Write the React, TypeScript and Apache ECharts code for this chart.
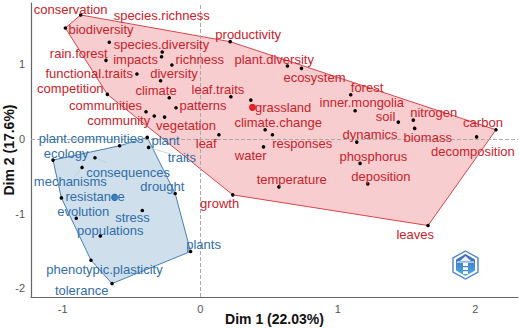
import React, { useEffect, useRef } from "react";
import * as echarts from "echarts";

const redWords = ["conservation","species.richness","biodiversity","species.diversity","impacts","richness","functional.traits","rain.forest","diversity","competition","climate","patterns","communities","community","vegetation","productivity","leaf.traits","grassland","leaf","plant.diversity","ecosystem","forest","inner.mongolia","soil","nitrogen","biomass","carbon","decomposition","climate.change","responses","water","dynamics","phosphorus","temperature","deposition","growth","leaves"];
const redDim1 = [-0.869,-0.98,-0.661,-0.276,-0.281,-0.206,-0.46,-0.685,-0.288,-0.675,-0.225,-0.176,-0.394,-0.334,-0.259,0.218,0.223,0.368,0.136,0.634,0.736,1.094,1.126,1.44,1.549,1.559,2.15,2.009,0.472,0.525,0.46,1.138,1.162,0.572,1.218,0.237,1.656];
const redDim2 = [1.66,1.485,1.294,1.164,1.10,0.989,0.869,1.052,0.779,0.597,0.551,0.417,0.363,0.306,0.292,1.302,0.564,0.52,0.055,0.976,0.945,0.591,0.377,0.225,0.252,0.141,0.122,0.028,0.122,0.055,-0.106,-0.043,-0.328,-0.642,-0.602,-0.749,-1.16];
const redHullWords = ["conservation","productivity","carbon","leaves","growth","competition","species.richness"];
const redCentre = [0.38, 0.422];

const blueWords = ["plant","traits","plant.communities","ecology","consequences","mechanisms","resistance","evolution","stress","drought","populations","plants","phenotypic.plasticity","tolerance"];
const blueDim1 = [-0.385,-0.375,-0.586,-1.07,-0.765,-0.859,-1.009,-0.901,-0.421,-0.182,-0.726,-0.07,-0.794,-0.641];
const blueDim2 = [0.02,-0.114,-0.092,-0.284,-0.253,-0.382,-0.79,-1.062,-0.958,-0.731,-1.299,-1.508,-1.625,-1.937];
const blueHullWords = ["ecology","plant.communities","plant","drought","plants","tolerance","phenotypic.plasticity","resistance"];
const blueCentre = [-0.622, -0.78];

const xTicks = [-1, 0, 1, 2];
const yTicks = [-2, -1, 0, 1];

// label nudges in pixels, from the mark to the centre of its text
const redNudge: number[][] = [[-10,-5],[96.3,-13],[-8.3,-13],[-0.7,-7.7],[-26,2.3],[27.8,-6],[-47.7,-0.7],[-27.2,-7],[13.4,-7.4],[-37,-6],[-13.2,-7],[27,-2.4],[-40.4,-6.4],[-35.5,4.3],[21.4,8.7],[18,-6.7],[-13,-7.4],[32.3,7.7],[-12.7,8.6],[-13.3,-6.7],[13,9],[16.3,-7.4],[6.7,-8.7],[-12.8,-5.3],[20.4,-7.3],[13,8.7],[-13,-7],[-3.7,15],[13,-7],[29.7,8.6],[-12.8,8.6],[13.3,-7.3],[13.3,-7.3],[12.8,-7],[13.1,-7.4],[-13.2,9],[-12.8,9]];
const blueNudge: number[][] = [[18.3,3.4],[33.2,10],[-28.5,-7.4],[13.1,-6.7],[33.1,14.3],[-11.7,14.4],[33.7,-1.4],[7,-7],[-9.8,7],[-12.8,-6.6],[10,-5],[13,-7],[13.5,9],[-30.4,7]];

// faint leader lines: word, and how far along the way to its text the line stops
const redLeaders: [string, number][] = [["species.richness", 0.49]];
const blueLeaders: [string, number][] = [["traits", 0.62], ["consequences", 0.35], ["mechanisms", 0.7]];

const RED = "#c9222a";
const BLUE = "#2f6da8";
const FONT = "'Liberation Sans', Arial, sans-serif";

function hullSeries(words: string[], xs: number[], ys: number[], hull: string[], fill: string, stroke: string) {
  const pts = hull.map((w) => { const i = words.indexOf(w); return [xs[i], ys[i]]; });
  return {
    type: "custom", silent: true, z: 1, clip: false,
    data: pts,
    encode: { x: 0, y: 1 },
    renderItem: (p: any, api: any) => p.dataIndex !== 0 ? null : ({
      type: "polygon",
      shape: { points: pts.map((q) => api.coord(q)) },
      style: { fill, stroke, lineWidth: 1 },
    }),
  };
}

function leaderSeries(words: string[], xs: number[], ys: number[], nudge: number[][], leaders: [string, number][], stroke: string) {
  const rows = leaders.map(([w, f]) => { const i = words.indexOf(w); return [xs[i], ys[i], nudge[i][0] * f, nudge[i][1] * f]; });
  return {
    type: "custom", silent: true, z: 3, clip: false,
    data: rows,
    encode: { x: 0, y: 1 },
    renderItem: (_p: any, api: any) => {
      const a = api.coord([api.value(0), api.value(1)]);
      return {
        type: "line",
        shape: { x1: a[0], y1: a[1], x2: a[0] + api.value(2), y2: a[1] + api.value(3) },
        style: { stroke, lineWidth: 0.8 },
      };
    },
  };
}

function wordSeries(words: string[], xs: number[], ys: number[], nudge: number[][], color: string) {
  return {
    type: "scatter", silent: true, z: 5,
    symbolSize: 3.6,
    itemStyle: { color: "#000", opacity: 1 },
    data: words.map((w, i) => ({
      name: w,
      value: [xs[i], ys[i]],
      label: {
        show: true, formatter: w, position: "inside", offset: nudge[i],
        color, fontSize: 13, fontFamily: FONT, align: "center", verticalAlign: "middle",
      },
    })),
  };
}

echarts.graphic.registerShape("logoHex", echarts.graphic.extendPath("M12.5 0L25 7L25 21L12.5 28L0 21L0 7Z", {}) as any);

export default function App() {
  const ref = useRef<HTMLDivElement>(null);
  useEffect(() => {
    const chart = echarts.init(ref.current!, undefined, { renderer: "svg" });
    const nameStyle = { fontFamily: FONT, fontSize: 14, fontWeight: "bold", color: "#111" };
    const axisLine = { show: true, onZero: false, lineStyle: { color: "#666", width: 1.2 } };
    const tickLabel = { color: "#555", fontFamily: FONT, fontSize: 11, margin: 6 };
    chart.setOption({
      animation: false,
      backgroundColor: "#fff",
      grid: { left: 31, right: 2, top: 3, bottom: 31, outerBoundsMode: "none" },
      xAxis: {
        type: "value", min: -1.23, max: 2.31,
        name: "Dim 1 (22.03%)", nameLocation: "middle", nameGap: 15, nameMoveOverlap: false,
        nameTextStyle: nameStyle,
        splitLine: { show: false },
        axisLine,
        axisTick: { show: false, customValues: xTicks },
        axisLabel: { ...tickLabel, customValues: xTicks },
      },
      yAxis: {
        type: "value", min: -2.117, max: 1.82,
        name: "Dim 2 (17.6%)", nameLocation: "middle", nameGap: 15, nameMoveOverlap: false,
        nameTextStyle: nameStyle,
        splitLine: { show: false },
        axisLine,
        axisTick: { show: false, customValues: yTicks },
        axisLabel: { ...tickLabel, customValues: yTicks },
      },
      series: [
        hullSeries(redWords, redDim1, redDim2, redHullWords, "rgba(226,60,70,0.26)", "#d9444a"),
        hullSeries(blueWords, blueDim1, blueDim2, blueHullWords, "rgba(70,130,180,0.26)", "#4a7fb5"),
        {
          type: "line", data: [], z: 2, silent: true,
          markLine: {
            silent: true, symbol: "none", label: { show: false }, animation: false,
            lineStyle: { color: "#aaa", type: "dashed", width: 1 },
            data: [{ xAxis: 0 }, { yAxis: 0 }],
          },
        },
        leaderSeries(redWords, redDim1, redDim2, redNudge, redLeaders, "#e6d6d6"),
        leaderSeries(blueWords, blueDim1, blueDim2, blueNudge, blueLeaders, "#bccbd9"),
        wordSeries(redWords, redDim1, redDim2, redNudge, RED),
        wordSeries(blueWords, blueDim1, blueDim2, blueNudge, BLUE),
        { type: "scatter", silent: true, z: 4, symbolSize: 7, itemStyle: { color: "#e0242c", opacity: 1 }, data: [redCentre] },
        { type: "scatter", silent: true, z: 4, symbolSize: 7, itemStyle: { color: "#3d84c4", opacity: 1 }, data: [blueCentre] },
      ],
      graphic: [
        {
          type: "group", x: 453, y: 251,
          children: [
            { type: "logoHex", style: { fill: "#fff", stroke: "#4a86c8", lineWidth: 1.4 } },
            { type: "polygon", shape: { points: [[12.5,3],[22,8.5],[22,19.5],[12.5,25],[3,19.5],[3,8.5]] }, style: { fill: {
              type: "linear", x: 0, y: 0, x2: 0, y2: 1,
              colorStops: [{ offset: 0, color: "#3f66b4" }, { offset: 1, color: "#46aee6" }],
            } } },
            { type: "polygon", shape: { points: [[12.5,5],[18,10],[7,10]] }, style: { fill: "#e8eef8" } },
            { type: "rect", shape: { x: 4, y: 10.5, width: 17, height: 1.2 }, style: { fill: "#e8eef8" } },
            { type: "rect", shape: { x: 10, y: 12, width: 5, height: 11 }, style: { fill: "#ffffff" } },
            { type: "rect", shape: { x: 10, y: 15, width: 5, height: 1.2 }, style: { fill: "#3f86cc" } },
            { type: "rect", shape: { x: 10, y: 19, width: 5, height: 1.2 }, style: { fill: "#3f86cc" } },
          ],
        },
      ],
    });
    return () => chart.dispose();
  }, []);
  return <div ref={ref} style={{ position: "fixed", left: 0, top: 0, width: 520, height: 328, background: "#fff" }} />;
}
